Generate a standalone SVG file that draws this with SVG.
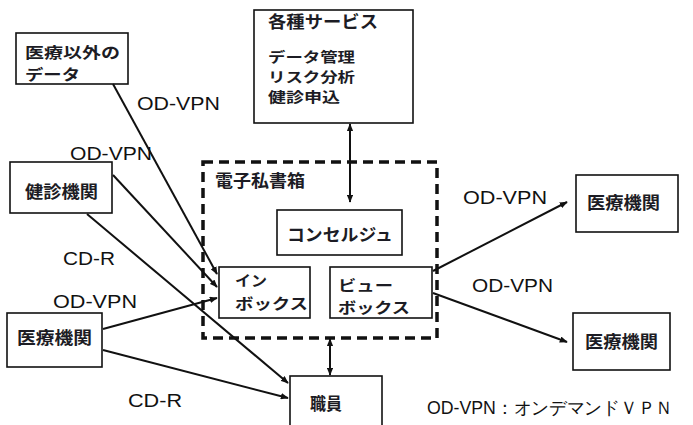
<svg xmlns="http://www.w3.org/2000/svg" width="693" height="425" viewBox="0 0 693 425">
<defs>
<marker id="ah" viewBox="0 0 10 8" refX="9" refY="4" markerWidth="8" markerHeight="6.4" markerUnits="userSpaceOnUse" orient="auto-start-reverse">
<path d="M0,0 L10,4 L0,8 z" fill="#111"/>
</marker>
</defs>
<style>
.box{fill:#fff;stroke:#111;stroke-width:1.6}
.jp{font-family:"Noto Sans CJK JP","Noto Sans",sans-serif;font-weight:bold;font-size:17px;fill:#1c1c24}
.ml{font-size:15px}
.sv{font-size:14px}
.lbl{font-family:"Liberation Sans",Arial,sans-serif;font-size:18px;fill:#111}
.c{stroke:#111;stroke-width:2;fill:none;marker-end:url(#ah)}
.bi{marker-start:url(#ah)}
</style>
<rect width="693" height="425" fill="#fff"/>

<g id="n_denshi">
<rect x="203" y="162" width="234" height="176" fill="none" stroke="#111" stroke-width="3.5" stroke-dasharray="10 6"/>
<text class="jp" x="215" y="187" font-size="15" textLength="90" lengthAdjust="spacingAndGlyphs">電子私書箱</text>
</g>

<g id="n_other">
<rect class="box" x="16" y="33" width="112" height="51"/>
<text class="jp ml" x="25" y="58" textLength="95" lengthAdjust="spacingAndGlyphs">医療以外の</text>
<text class="jp ml" x="25" y="80" textLength="55" lengthAdjust="spacingAndGlyphs">データ</text>
</g>

<g id="n_services">
<rect class="box" x="254" y="10" width="159" height="113" stroke-width="2"/>
<text class="jp" x="268" y="28" textLength="110" lengthAdjust="spacingAndGlyphs">各種サービス</text>
<text class="jp sv" x="268" y="62" textLength="87" lengthAdjust="spacingAndGlyphs">データ管理</text>
<text class="jp sv" x="268" y="82" textLength="87" lengthAdjust="spacingAndGlyphs">リスク分析</text>
<text class="jp sv" x="268" y="102" textLength="72" lengthAdjust="spacingAndGlyphs">健診申込</text>
</g>

<g id="n_concierge">
<rect class="box" x="277" y="210" width="125" height="45"/>
<text class="jp" x="287" y="241" textLength="106" lengthAdjust="spacingAndGlyphs">コンセルジュ</text>
</g>

<g id="n_inbox">
<rect class="box" x="219" y="267" width="91" height="51"/>
<text class="jp ml" x="235" y="286" textLength="32" lengthAdjust="spacingAndGlyphs">イン</text>
<text class="jp ml" x="235" y="309" textLength="73" lengthAdjust="spacingAndGlyphs">ボックス</text>
</g>

<g id="n_viewbox">
<rect class="box" x="330" y="267" width="102" height="51"/>
<text class="jp ml" x="338" y="291" textLength="55" lengthAdjust="spacingAndGlyphs">ビュー</text>
<text class="jp ml" x="338" y="313" textLength="72" lengthAdjust="spacingAndGlyphs">ボックス</text>
</g>

<g id="n_kenshin">
<rect class="box" x="10" y="162" width="102" height="51"/>
<text class="jp" x="25" y="198" textLength="73" lengthAdjust="spacingAndGlyphs">健診機関</text>
</g>

<g id="n_med_left">
<rect class="box" x="7" y="313" width="95" height="54"/>
<text class="jp" x="17" y="344" textLength="75" lengthAdjust="spacingAndGlyphs">医療機関</text>
</g>

<g id="n_staff">
<rect class="box" x="290" y="376" width="92" height="60"/>
<text class="jp" x="310" y="410" textLength="32" lengthAdjust="spacingAndGlyphs">職員</text>
</g>

<g id="n_med_r1">
<rect class="box" x="576" y="175" width="102" height="57"/>
<text class="jp" x="587" y="209" textLength="73" lengthAdjust="spacingAndGlyphs">医療機関</text>
</g>

<g id="n_med_r2">
<rect class="box" x="573" y="313" width="97" height="57"/>
<text class="jp" x="585" y="348" textLength="73" lengthAdjust="spacingAndGlyphs">医療機関</text>
</g>

<g id="connectors">
<path class="c" d="M113,84 L217,274"/>
<path class="c" d="M113,175 L217,287"/>
<path class="c" d="M87,214 L288,383"/>
<path class="c" d="M103,329 L217,298"/>
<path class="c" d="M103,350 L288,398"/>
<path class="c" d="M433,271 L567,202"/>
<path class="c" d="M433,293 L567,342"/>
<path class="c bi" d="M350,124 L350,202"/>
<path class="c bi" d="M330,339 L330,375"/>
</g>

<g id="labels">
<text class="lbl" x="137" y="110" textLength="83" lengthAdjust="spacingAndGlyphs">OD-VPN</text>
<text class="lbl" x="70" y="160" textLength="82" lengthAdjust="spacingAndGlyphs">OD-VPN</text>
<text class="lbl" x="63" y="265" textLength="52" lengthAdjust="spacingAndGlyphs">CD-R</text>
<text class="lbl" x="53" y="308" textLength="84" lengthAdjust="spacingAndGlyphs">OD-VPN</text>
<text class="lbl" x="128" y="407" textLength="54" lengthAdjust="spacingAndGlyphs">CD-R</text>
<text class="lbl" x="463" y="204" textLength="84" lengthAdjust="spacingAndGlyphs">OD-VPN</text>
<text class="lbl" x="472" y="292" textLength="81" lengthAdjust="spacingAndGlyphs">OD-VPN</text>
<text class="lbl" x="427" y="414" font-size="17" textLength="246" lengthAdjust="spacingAndGlyphs">OD-VPN：オンデマンドＶＰＮ</text>
</g>
</svg>
